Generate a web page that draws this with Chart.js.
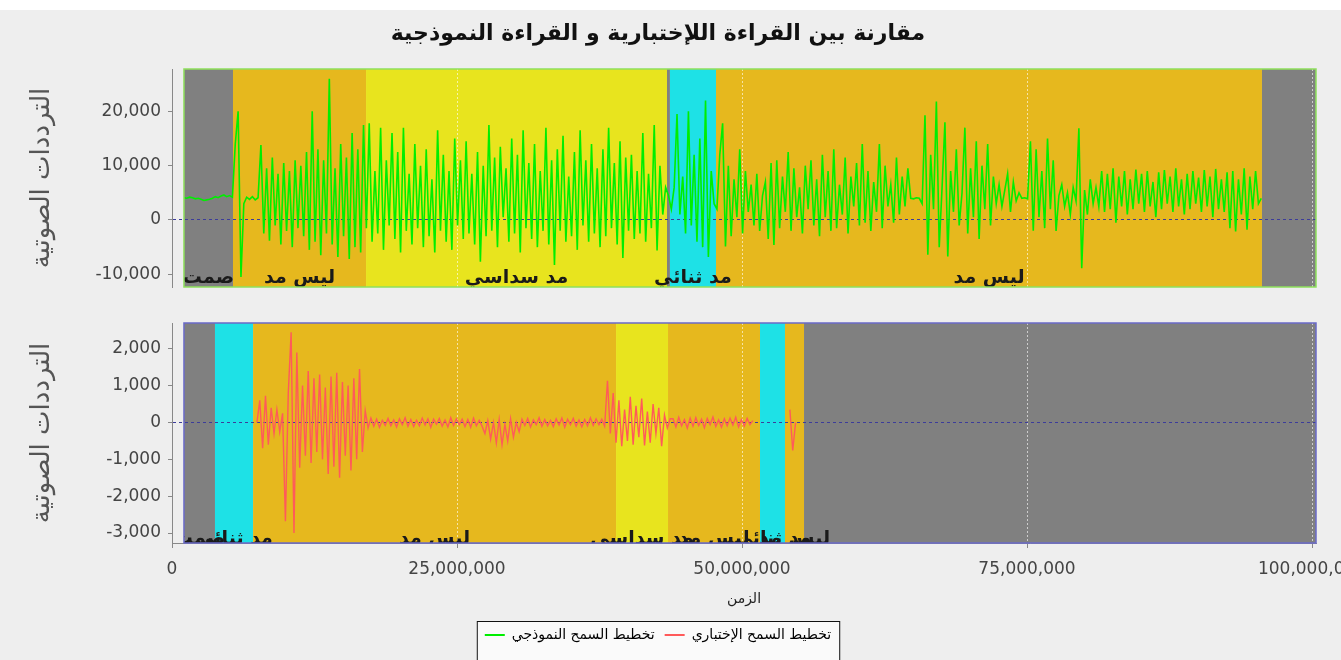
<!DOCTYPE html>
<html lang="ar">
<head>
<meta charset="utf-8">
<title>مقارنة بين القراءة اللإختبارية و القراءة النموذجية</title>
<script src="https://cdn.jsdelivr.net/npm/chart.js@4.4.1/dist/chart.umd.min.js"></script>
<style>
  html, body { margin: 0; padding: 0; background: #eeeeee; }
  #page { position: relative; width: 1341px; height: 660px; overflow: hidden; background: #eeeeee; }
  #strip { position: absolute; left: 0; top: 0; width: 1341px; height: 10px; background: #ffffff; }
  .box { position: absolute; left: 0; width: 1341px; }
  #topBox { top: 10px; height: 285px; }
  #bottomBox { top: 310px; height: 350px; }
</style>
</head>
<body>
<div id="page">
  <div id="strip"></div>
  <div class="box" id="topBox"><canvas id="topChart"></canvas></div>
  <div class="box" id="bottomBox"><canvas id="bottomChart"></canvas></div>
</div>
<script>
// ============================================================
//  مقارنة القراءتين - waveform + segment bands
// ============================================================

// ---------- axes ----------
const xTicks = [0, 25000000, 50000000, 75000000, 100000000];
const xMax = 100350000;
const topTicks = [-10000, 0, 10000, 20000];
const topRange = [-12340, 27800];
const bottomTicks = [-3000, -2000, -1000, 0, 1000, 2000];
const bottomRange = [-3270, 2700];

const seriesNames = ["تخطيط السمح النموذجي", "تخطيط السمح الإختباري"];

// ---------- segments (edges in millions of time units) ----------
const topEdges  = [1.05, 5.35, 17.02, 43.42, 43.68, 47.72, 95.61, 100.35];
const topKinds  = ["silence", "none", "six", "silence", "two", "none", "silence"];
const topLabels = ["صمت", "ليس مد", "مد سداسي", "", "مد ثنائي", "ليس مد", ""];

const bottomEdges  = [1.05, 3.77, 7.11, 38.95, 43.51, 51.58, 53.77, 55.44, 100.35];
const bottomKinds  = ["silence", "two", "none", "six", "none", "two", "none", "silence"];
const bottomLabels = ["صمت", "مد ثنائي", "ليس مد", "مد سداسي", "ليس مد", "مد ثنائي", "ليس مد", ""];

// ---------- signals (sampled every DT million units) ----------
const GREEN_T0 = 1.05, GREEN_DT = 0.25;
const greenValues = [
  4100, 4000, 4200, 4100, 3900, 4000, 3800, 3600, 3700, 3800,
  4000, 4300, 4100, 4400, 4600, 4300, 4500, 4200, 14000, 20000,
  -10500, 3000, 4200, 3800, 4300, 3700, 4100, 13800, -2500, 9500,
  -3800, 11500, -1000, 8500, -4500, 10500, -2000, 9000, -5000, 11000,
  -1500, 10000, -3000, 12500, -5500, 20000, -4000, 13000, -6500, 11000,
  -2500, 26000, -4500, 9500, -6800, 14000, -3000, 11500, -7200, 16000,
  -5000, 13000, -6000, 17500, -1500, 17800, -4000, 9000, -2500, 17000,
  -5500, 11000, -1000, 16000, -3500, 12500, -6000, 17000, -2000, 8500,
  -4500, 14000, -1500, 10000, -5000, 13000, -3000, 7500, -6000, 16500,
  -2000, 12000, -4000, 9000, -5500, 15000, -1000, 11000, -3500, 14500,
  -2500, 8500, -4500, 12500, -7700, 10000, -3000, 17500, -2000, 11500,
  -5000, 13500, 500, 9500, -4000, 15000, -2500, 12000, -6000, 16500,
  -1500, 10500, -3500, 14000, -5000, 9000, -2000, 17000, -4500, 11000,
  -8300, 13000, -2000, 15500, -4000, 8000, -3000, 12500, -5500, 16500,
  -1000, 11000, -4000, 14000, -2500, 9500, -5000, 13000, -3000, 17000,
  -1500, 10500, -4500, 14500, -7000, 11500, -2000, 12000, -3500, 9000,
  -2500, 16000, -4000, 8500, -1500, 17500, -5600, 10000, 1000, 6000,
  4500, 2000, 6000, 19500, 1000, 8000, -2500, 20000, -1000, 12000,
  -4000, 15000, -5000, 22000, -6800, 9000, 3000, 2000, 12000, 17800,
  -4900, 10000, -3000, 7500, 500, 13000, -2500, 9000, 1500, 6500,
  -1000, 8500, -2000, 4500, 7000, -3500, 10500, -4600, 11000, -1500,
  8000, 1500, 12500, -2000, 9500, 500, 6000, -2500, 10000, 2000,
  11000, -1000, 7500, -3000, 12000, 500, 9000, -2000, 13000, -1500,
  6500, 1000, 11500, -2500, 8000, 2500, 10500, -1000, 14000, -500,
  9000, -2000, 7000, 1500, 14000, -1500, 10000, 2500, 6500, -500,
  11500, 1000, 8000, 2500, 9500, 4000, 3900, 4100, 4000, 3000,
  19300, -6400, 12000, 2000, 21800, -5000, 6000, 18000, -6700, 9000,
  1500, 13000, -1000, 5000, 17000, -2500, 9500, 500, 14500, -3500,
  10000, 2000, 14000, -1000, 8000, 3000, 6500, 2500, 5500, 8500,
  1500, 7000, 3500, 5000, 4000, 4100, 3900, 14500, -2000, 13000,
  500, 9000, -1500, 15000, 2000, 11000, -2000, 4500, 6500, 2500,
  5000, 1000, 6000, 3500, 16900, -8900, 5500, 1000, 7500, 3000,
  6000, 2500, 9000, 1500, 8500, 2000, 9500, -500, 8000, 2500,
  9000, 1000, 7500, 2000, 9300, 3000, 8500, 1500, 9000, 2500,
  7000, 500, 8800, 2000, 9200, 3000, 8000, 1500, 9500, 2500,
  7500, 1000, 8500, 2000, 9000, 3000, 7800, 1500, 9200, 2500,
  8000, 500, 9400, 2000, 7500, 1500, 8800, -1500, 9000, -2100,
  7500, 1000, 9500, -1800, 8000, 2000, 9000, 3000, 4000
];

const RED_T0 = 7.45, RED_DT = 0.25;
const redValues = [
  0, 600, -700, 725, -600, 400, -300, 350, -250, 250,
  -2680, 800, 2450, -3000, 1900, -1230,
  1000, -900, 1400, -1100, 1200, -800, 1300, -1000, 950, -1400,
  1250, -1200, 1350, -1500, 1100, -900, 1000, -1300, 1200, -1000,
  1450, -800, 320, -150,
  120, -100, 90, -130, 60, -80, 110, -90, 70, -120,
  100, -60, 130, -100, 80, -110, 60, -90, 120, -70,
  100, -130, 90, -50, 110, -100, 70, -120, 130, -80,
  100, -60, 90, -110, 80, -130, 120, -90, 60,
  -100, -300, 50, -450, 0, -550, 80, -600, -50, -500, 100, -400, 0, -250,
  90, -80, 110, -120, 70, -60, 130, -100, 80, -90,
  60, -110, 100, -70, 120, -130, 90, -60, 110, -100,
  70, -120, 80, -90, 130, -80, 100, -60, 90, -100,
  1135, -300, 800, -550, 600, -640, 350, -500, 700, -600,
  450, -400, 650, -620, 300, -550, 500, -300, 400, -640,
  200, -150, 100,
  100, -120, 140, -90, 80, -150, 120, -100, 130, -80,
  90, -140, 110, -60, 150, -110, 70, -130, 100, -90,
  120, -70, 140, -120, 80, -100, 110, -60, 50,
  null, null, null, null, null, null, null, null, null, null, null, null,
  350, -760, 0
];

// ---------- styles ----------
const GREEN = "#00ee00";
const RED = "#ff5a5a";
const KIND_COLOR = { silence: "#808080", none: "#e6b81e", six: "#e8e41e", two: "#1ee1e6" };

Chart.defaults.font.family = '"DejaVu Sans", sans-serif';
Chart.defaults.color = "#444";

function toPoints(t0, dt, values) {
  return values.map((v, i) => ({ x: (t0 + i * dt) * 1e6, y: v }));
}

// coloured segment bands + their labels + panel outline
function makeBands(edges, kinds, labels, outline) {
  const span = (x) => [x.getPixelForValue(edges[0] * 1e6), x.getPixelForValue(edges[edges.length - 1] * 1e6)];
  return {
    id: "bands",
    beforeDraw(chart) {
      const { ctx, chartArea: a, scales: { x } } = chart;
      ctx.save();
      kinds.forEach((k, i) => {
        const x0 = x.getPixelForValue(edges[i] * 1e6);
        const x1 = x.getPixelForValue(edges[i + 1] * 1e6);
        ctx.fillStyle = KIND_COLOR[k];
        ctx.fillRect(x0, a.top, x1 - x0, a.bottom - a.top);
      });
      ctx.restore();
    },
    beforeDatasetsDraw(chart) {
      const { ctx, chartArea: a, scales: { x } } = chart;
      const [l, r] = span(x);
      ctx.save();
      ctx.beginPath();
      ctx.rect(l, a.top, r - l, a.bottom - a.top);
      ctx.clip();
      ctx.font = 'bold 19px "DejaVu Sans"';
      ctx.fillStyle = "#1a1a1a";
      ctx.textAlign = "center";
      labels.forEach((t, i) => {
        if (!t) return;
        const mid = x.getPixelForValue((edges[i] + edges[i + 1]) / 2 * 1e6);
        ctx.fillText(t, mid, a.bottom - 4);
      });
      ctx.restore();
    },
    afterDatasetsDraw(chart) {
      const { ctx, chartArea: a, scales: { x } } = chart;
      const [l, r] = span(x);
      ctx.save();
      ctx.strokeStyle = outline;
      ctx.lineWidth = 1.5;
      ctx.strokeRect(l, a.top, r - l, a.bottom - a.top);
      ctx.restore();
    }
  };
}

const legendFrame = {
  id: "legendFrame",
  beforeDraw(chart) {
    const boxes = chart.legend && chart.legend.legendHitBoxes;
    if (!boxes || !boxes.length) return;
    const l = Math.min(...boxes.map(b => b.left)) - 8;
    const r = Math.max(...boxes.map(b => b.left + b.width)) + 8;
    const t = boxes[0].top - 7;
    const { ctx } = chart;
    ctx.save();
    ctx.fillStyle = "#fafafa";
    ctx.fillRect(l, t, r - l, chart.height - t + 5);
    ctx.strokeStyle = "#111";
    ctx.lineWidth = 1;
    ctx.strokeRect(l + 0.5, t + 0.5, r - l, chart.height - t + 5);
    ctx.restore();
  }
};

const xGridColor = (c) => (c.tick && c.tick.value === 0 ? "rgba(0,0,0,0)" : "rgba(255,255,255,0.6)");

function yAxis(range, ticks) {
  return {
    min: range[0],
    max: range[1],
    afterBuildTicks: (s) => { s.ticks = ticks.map(v => ({ value: v })); },
    afterFit: (s) => { s.width = 172; s.paddingTop = 0; s.paddingBottom = 0; },
    ticks: { color: "#444", font: { size: 17 }, padding: 7 },
    grid: {
      color: (c) => (c.tick && c.tick.value === 0 ? "#3c3c9a" : "rgba(0,0,0,0)"),
      tickColor: "#888",
      tickLength: 4
    },
    border: { display: true, color: "#888", width: 1, dash: [3, 3] },
    title: {
      display: true,
      text: "الترددات الصوتية",
      color: "#555",
      font: { size: 26 },
      padding: { top: 27, bottom: 0 }
    }
  };
}

// ---------- top chart: model reading ----------
new Chart(document.getElementById("topChart"), {
  type: "line",
  data: {
    datasets: [{
      label: seriesNames[0],
      data: toPoints(GREEN_T0, GREEN_DT, greenValues),
      borderColor: GREEN,
      borderWidth: 1.6,
      pointRadius: 0,
      tension: 0
    }]
  },
  options: {
    responsive: true,
    maintainAspectRatio: false,
    animation: false,
    layout: { padding: { left: 0, right: 25, top: 0, bottom: 8 } },
    plugins: {
      legend: { display: false },
      tooltip: { enabled: false },
      title: {
        display: true,
        text: "مقارنة بين القراءة اللإختبارية و القراءة النموذجية",
        color: "#111",
        font: { size: 22, weight: "bold" },
        padding: { top: 11, bottom: 21.6 }
      }
    },
    scales: {
      x: {
        type: "linear",
        min: 0,
        max: xMax,
        afterBuildTicks: (s) => { s.ticks = xTicks.map(v => ({ value: v })); },
        afterFit: (s) => { s.height = 0; s.paddingLeft = 0; s.paddingRight = 0; },
        ticks: { display: false },
        grid: { color: xGridColor, drawTicks: false },
        border: { display: false, dash: [2, 2] }
      },
      y: yAxis(topRange, topTicks)
    }
  },
  plugins: [makeBands(topEdges, topKinds, topLabels, "#8ee05c")]
});

// ---------- bottom chart: test reading ----------
new Chart(document.getElementById("bottomChart"), {
  type: "line",
  data: {
    datasets: [{
      label: seriesNames[1],
      data: toPoints(RED_T0, RED_DT, redValues),
      borderColor: RED,
      borderWidth: 1.4,
      pointRadius: 0,
      tension: 0,
      spanGaps: false
    }]
  },
  options: {
    responsive: true,
    maintainAspectRatio: false,
    animation: false,
    layout: { padding: { left: 0, right: 25, top: 13, bottom: 8 } },
    plugins: {
      tooltip: { enabled: false },
      legend: {
        position: "bottom",
        onClick: () => {},
        labels: {
          color: "#111",
          font: { size: 14 },
          boxWidth: 20,
          boxHeight: 2,
          padding: 10,
          generateLabels: () => [
            { text: seriesNames[0], fillStyle: GREEN, strokeStyle: GREEN, lineWidth: 0, hidden: false, datasetIndex: 0 },
            { text: seriesNames[1], fillStyle: RED, strokeStyle: RED, lineWidth: 0, hidden: false, datasetIndex: 0 }
          ]
        }
      }
    },
    scales: {
      x: {
        type: "linear",
        min: 0,
        max: xMax,
        afterBuildTicks: (s) => { s.ticks = xTicks.map(v => ({ value: v })); },
        afterFit: (s) => { s.height = 75; s.paddingLeft = 0; s.paddingRight = 0; },
        ticks: { color: "#444", font: { size: 17 }, padding: 11, maxRotation: 0, autoSkip: false },
        grid: { color: xGridColor, tickColor: "#888", tickLength: 5 },
        border: { display: true, color: "#888", width: 1, dash: [2, 2] },
        title: {
          display: true,
          text: "الزمن",
          color: "#222",
          font: { size: 14 },
          padding: { top: 4, bottom: 10 }
        }
      },
      y: yAxis(bottomRange, bottomTicks)
    }
  },
  plugins: [makeBands(bottomEdges, bottomKinds, bottomLabels, "#6a6ac8"), legendFrame]
});
</script>
</body>
</html>
